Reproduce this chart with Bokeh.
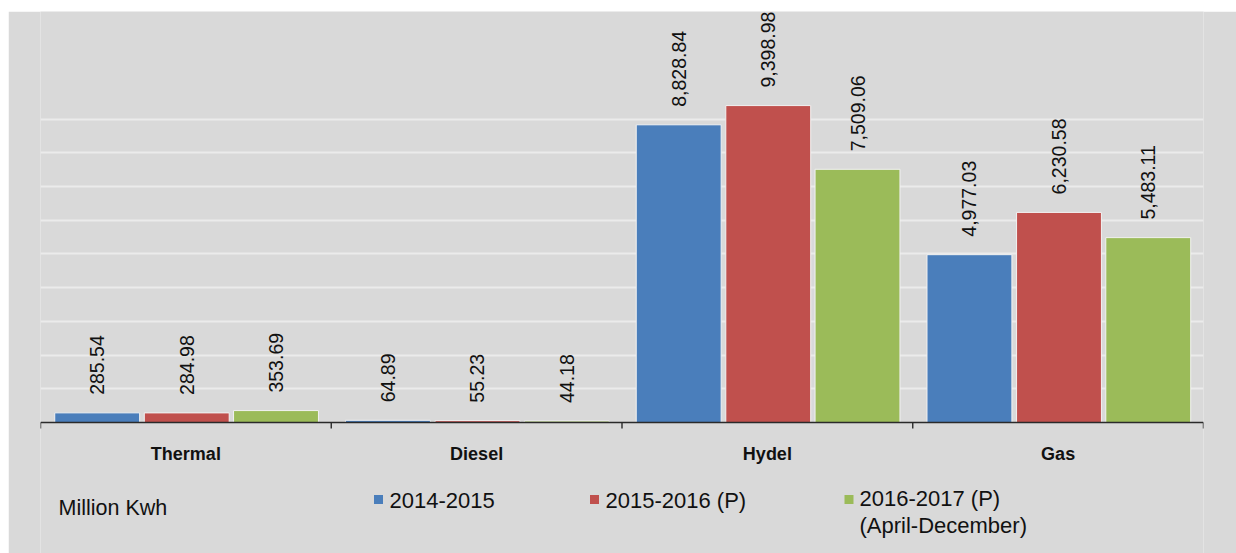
import math
from bokeh.plotting import figure
from bokeh.models import ColumnDataSource, Range1d, Grid, FixedTicker, Spacer
from bokeh.layouts import column, row
from bokeh.core.properties import value
from bokeh.embed import file_html
from bokeh.resources import INLINE

# ---------------- data ----------------
categories = ["Thermal", "Diesel", "Hydel", "Gas"]
series_names = ["2014-2015", "2015-2016 (P)", "2016-2017 (P)\n(April-December)"]
values_2014_15 = [285.54, 64.89, 8828.84, 4977.03]
values_2015_16 = [284.98, 55.23, 9398.98, 6230.58]
values_2016_17 = [353.69, 44.18, 7509.06, 5483.11]
unit_label = "Million Kwh"
grid_values = [1000, 2000, 3000, 4000, 5000, 6000, 7000, 8000, 9000]

series_values = [values_2014_15, values_2015_16, values_2016_17]
colors = ["#4a7ebb", "#c0504d", "#9bbb59"]
offsets = [-0.305, 0.003, 0.31]
bar_width = 0.292

FONT = value("Liberation Sans")
BG = "#d9d9d9"

# ---------------- layout geometry ----------------
OFF_X, OFF_Y = 8, 11          # white band left / top of the grey panel
FIG_W, FIG_H = 1228, 542
LEFT, RIGHT = 32, 33
frame_w = FIG_W - LEFT - RIGHT
px_per_cat = frame_w / len(categories)
Y_TOP, Y_BOTTOM = 12189, -3885
px_per_unit = FIG_H / (Y_TOP - Y_BOTTOM)


def page_x(px):
    return (px - OFF_X - LEFT) / px_per_cat


def below(px):
    # px below the baseline, in data units
    return -px / px_per_unit


p = figure(width=FIG_W, height=FIG_H, output_backend="svg", toolbar_location=None,
           x_range=Range1d(0, len(categories)), y_range=Range1d(Y_BOTTOM, Y_TOP),
           x_axis_location=None, y_axis_location=None,
           min_border_left=LEFT, min_border_right=RIGHT,
           min_border_top=0, min_border_bottom=0)
p.background_fill_color = BG
p.border_fill_color = BG
p.outline_line_color = None
p.xgrid.visible = False
p.ygrid.visible = False

grid = Grid(dimension=1, ticker=FixedTicker(ticks=grid_values),
            grid_line_color="#ebebeb", grid_line_width=2)
p.add_layout(grid)

# bars + value labels
for vals, col, off in zip(series_values, colors, offsets):
    src = ColumnDataSource(dict(
        x=[i + 0.5 + off for i in range(len(categories))],
        top=vals,
        label=["{:,.2f}".format(v) for v in vals],
    ))
    p.vbar(x="x", top="top", bottom=0, width=bar_width, source=src,
           fill_color=col, line_color="#f2f2f2", line_width=1)
    p.text(x="x", y="top", text="label", source=src, angle=math.pi / 2,
           text_align="left", text_baseline="middle", y_offset=-18,
           text_font=FONT, text_font_size="19.5px", text_color="#111111")

# x axis line and boundary ticks
n = len(categories)
p.segment(x0=[0], y0=[0], x1=[n], y1=[0], line_color="#2a2a2a", line_width=1.6)
p.segment(x0=list(range(n + 1)), y0=[0] * (n + 1), x1=list(range(n + 1)),
          y1=[below(6)] * (n + 1), line_color="#2a2a2a", line_width=1.4)

# category labels
p.text(x=[i + 0.5 for i in range(n)], y=[0] * n, text=categories,
       text_align="center", text_baseline="middle", y_offset=31.5,
       text_font=FONT, text_font_size="18px", text_font_style="bold",
       text_color="#111111")

# unit label
p.text(x=[page_x(58)], y=[0], text=[unit_label], text_align="left",
       text_baseline="middle", y_offset=85.5, text_font=FONT,
       text_font_size="21.5px", text_color="#111111")

# legend
sq_px = [378, 594, 848.5]
tx_px = [389, 605, 859]
p.rect(x=[page_x(v) for v in sq_px], y=[below(77)] * 3, width=9, height=9,
       width_units="screen", height_units="screen", fill_color=colors,
       line_color=None)
for name, tx in zip(series_names, tx_px):
    lines = name.count("\n") + 1
    p.text(x=[page_x(tx)], y=[0], text=[name], text_align="left",
           text_baseline="middle", y_offset=77.5 + (lines - 1) * 12,
           text_font=FONT, text_font_size="22px", text_color="#111111",
           text_line_height=1.1)

layout = column(Spacer(width=FIG_W + OFF_X, height=OFF_Y),
                row(Spacer(width=OFF_X, height=FIG_H), p))
open("out.html", "w").write(file_html(layout, INLINE))
